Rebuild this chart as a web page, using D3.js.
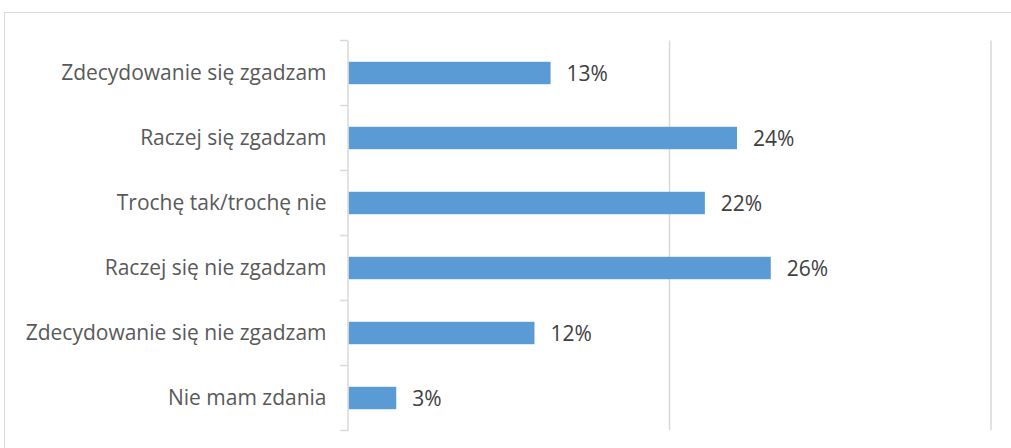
<!DOCTYPE html>
<html>
<head>
<meta charset="utf-8">
<script src="https://cdn.jsdelivr.net/npm/d3@7"></script>
<style>
  body { margin: 0; background: #fff; }
  text { font-family: "Open Sans", "Noto Sans", sans-serif; }
</style>
</head>
<body>
<div id="chart"></div>
<script>
// answers and their shares (%)
const categories = [
  "Zdecydowanie się zgadzam",
  "Raczej się zgadzam",
  "Trochę tak/trochę nie",
  "Raczej się nie zgadzam",
  "Zdecydowanie się nie zgadzam",
  "Nie mam zdania"
];
const values = [12.6, 24.2, 22.2, 26.3, 11.6, 3.0];
const xTicks = [0, 20, 40];

const width = 1011, height = 448;

const svg = d3.select("#chart").append("svg")
  .attr("width", width)
  .attr("height", height);

// chart frame
svg.append("rect")
  .attr("x", 4.5).attr("y", 12.5)
  .attr("width", width).attr("height", height)
  .attr("fill", "none")
  .attr("stroke", "#d9d9d9")
  .attr("stroke-width", 1);

const x = d3.scaleLinear()
  .domain([0, 40])
  .range([348, 991]);

const y = d3.scaleBand()
  .domain(categories)
  .range([40.5, 430.5])
  .paddingInner(0.655)
  .paddingOuter(0.3275);

// gridlines (not at zero)
svg.selectAll(".grid")
  .data(xTicks.filter(d => d > 0))
  .enter()
  .append("line")
  .attr("class", "grid")
  .attr("x1", d => x(d)).attr("x2", d => x(d))
  .attr("y1", 40.5).attr("y2", 430)
  .attr("stroke", "#d9d9d9")
  .attr("stroke-width", 1.5);

// bars
svg.selectAll(".bar")
  .data(categories)
  .enter()
  .append("rect")
  .attr("class", "bar")
  .attr("x", x(0) + 0.5)
  .attr("y", d => y(d))
  .attr("width", (d, i) => x(values[i]) - x(0) - 0.5)
  .attr("height", y.bandwidth())
  .attr("fill", "#5b9bd5");

// category axis
const yAxis = svg.append("g")
  .attr("transform", `translate(${x(0) - 0.5},0)`)
  .call(d3.axisLeft(y).tickSize(0).tickPadding(21));

yAxis.select(".domain")
  .attr("stroke", "#d9d9d9")
  .attr("stroke-width", 1.5);

yAxis.selectAll("text")
  .attr("font-size", 21)
  .attr("fill", "#595959")
  .attr("font-family", "'Open Sans', 'Noto Sans', sans-serif");

// tick marks at category boundaries
const bounds = categories.map(c => y(c) - y.step() * y.paddingInner() / 2);
bounds.push(430.5);
svg.selectAll(".tick-mark")
  .data(bounds)
  .enter()
  .append("line")
  .attr("class", "tick-mark")
  .attr("x1", x(0) - 8).attr("x2", x(0))
  .attr("y1", d => d).attr("y2", d => d)
  .attr("stroke", "#d9d9d9")
  .attr("stroke-width", 1.5);

// data labels
const fmt = d => d3.format(".0f")(d) + "%";
svg.selectAll(".label")
  .data(categories)
  .enter()
  .append("text")
  .attr("class", "label")
  .attr("x", (d, i) => x(values[i]) + 16)
  .attr("y", d => y(d) + y.bandwidth() / 2)
  .attr("dy", "0.36em")
  .attr("font-size", 21)
  .attr("fill", "#404040")
  .text((d, i) => fmt(values[i]));
</script>
</body>
</html>
